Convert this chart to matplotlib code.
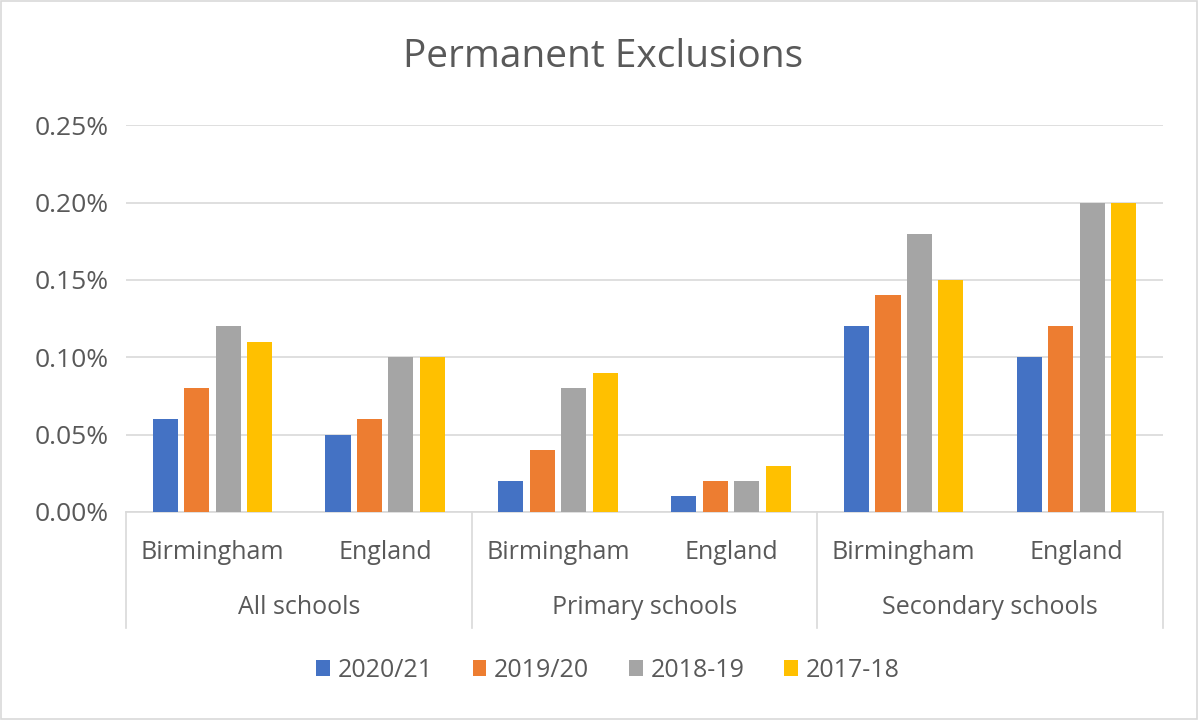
import matplotlib
matplotlib.use("Agg")
import matplotlib.pyplot as plt
import matplotlib.transforms as mtransforms
from matplotlib.ticker import FuncFormatter, MultipleLocator
from matplotlib.patches import Rectangle
import numpy as np

# data (percent of pupils)
groups = ["All schools", "Primary schools", "Secondary schools"]
areas = ["Birmingham", "England"]
series = ["2020/21", "2019/20", "2018-19", "2017-18"]
v_2020_21 = [0.06, 0.05, 0.02, 0.01, 0.12, 0.10]
v_2019_20 = [0.08, 0.06, 0.04, 0.02, 0.14, 0.12]
v_2018_19 = [0.12, 0.10, 0.08, 0.02, 0.18, 0.20]
v_2017_18 = [0.11, 0.10, 0.09, 0.03, 0.15, 0.20]
colors = ["#4472C4", "#ED7D31", "#A5A5A5", "#FFC000"]

text_col = "#595959"
grid_col = "#D9D9D9"
plt.rcParams["font.family"] = ["Open Sans", "DejaVu Sans"]

fig = plt.figure(figsize=(11.99, 7.2), dpi=100)
ax = fig.add_axes([0.105, 0.289, 0.865, 0.537])

cats = [a for g in groups for a in areas]
x = np.arange(len(cats)) + 0.5
width = 0.145
step = 0.182
all_vals = [v_2020_21, v_2019_20, v_2018_19, v_2017_18]
for i, (name, vals) in enumerate(zip(series, all_vals)):
    ax.bar(x + (i - 1.5) * step, vals, width, color=colors[i], label=name, zorder=3)

ax.set_xlim(0, len(cats))
ax.set_ylim(0, 0.25)
ax.yaxis.set_major_locator(MultipleLocator(0.05))
ax.yaxis.set_major_formatter(FuncFormatter(lambda y, pos: "%.2f%%" % y))
ax.grid(axis="y", color=grid_col, linewidth=1.2, zorder=0)
for s in ["top", "right", "left"]:
    ax.spines[s].set_visible(False)
ax.spines["bottom"].set_color(grid_col)
ax.spines["bottom"].set_linewidth(1.2)
ax.tick_params(axis="y", length=0, labelsize=19, labelcolor=text_col, pad=12)
ax.set_xticks(x)
ax.set_xticklabels(cats)
ax.tick_params(axis="x", length=0, labelsize=18, labelcolor=text_col, pad=20)

# group separators and group labels
trans = mtransforms.blended_transform_factory(ax.transData, ax.transAxes)
for b in range(0, len(cats) + 1, 2):
    ax.plot([b, b], [0, -0.30], color=grid_col, linewidth=1.2, transform=trans, clip_on=False)
for gi, g in enumerate(groups):
    ax.text(gi * 2 + 1, -0.248, g, transform=trans, ha="center", va="center",
            fontsize=18, color=text_col)

fig.text(0.503, 1 - 57 / 720, "Permanent Exclusions", ha="center", va="center",
         fontsize=28, color=text_col)

fig.legend(loc="center", bbox_to_anchor=(0.507, 0.069), ncol=4, frameon=False,
           fontsize=18, labelcolor=text_col, handlelength=0.55, handleheight=0.55,
           handletextpad=0.3, columnspacing=1.6)

fig.patches.append(Rectangle((0.001, 0.001), 0.997, 0.997, transform=fig.transFigure,
                             fill=False, edgecolor=grid_col, linewidth=1.2))

fig.savefig("out.png", dpi=100)
